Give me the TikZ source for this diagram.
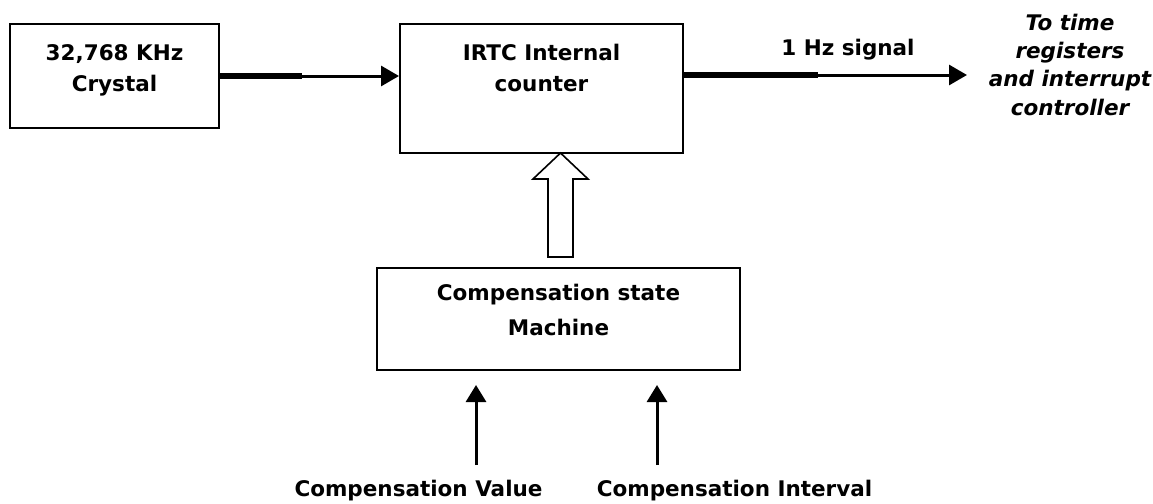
\documentclass[tikz,border=0pt]{standalone}
\usepackage{fontspec}
\setmainfont{DejaVu Sans}
\usetikzlibrary{arrows.meta}
\begin{document}
\begin{tikzpicture}[x=1pt,y=-1pt,
  box/.style={draw=black, line width=2pt, inner sep=0pt},
  txt/.style={align=center, inner sep=0pt, font=\bfseries\fontsize{21.5}{31}\selectfont},
  txtc/.style={align=center, inner sep=0pt, font=\bfseries\fontsize{21.5}{35}\selectfont},
  txti/.style={align=center, inner sep=0pt, font=\bfseries\itshape\fontsize{21.5}{28.3}\selectfont},
  lbl/.style={inner sep=0pt, font=\bfseries\fontsize{21.5}{26}\selectfont},
  heavy/.style={line width=5.5pt, yshift=1.2pt},
  signal/.style={line width=3pt, -{Triangle[length=18pt,width=20pt]}},
  inarrow/.style={line width=3pt, -{Triangle[length=17pt,width=20pt]}},
  hollow/.style={draw=black, line width=1.6pt, fill=white, line join=miter}
]
\useasboundingbox (0,0) rectangle (1153,503);

% boxes
\node[box, minimum width=209pt, minimum height=104pt] (crystal) at (114.5,76) {};
\node[box, minimum width=283pt, minimum height=129pt] (irtc) at (541.5,88.5) {};
\node[box, minimum width=363pt, minimum height=102pt] (comp) at (558.5,319) {};

% box texts
\node[txt] (crystaltxt) at (114.5,69.6) {\strut 32,768 KHz\\Crystal\strut};
\node[txt] (irtctxt) at (541.5,69.6) {\strut IRTC Internal\\counter\strut};
\node[txtc] (comptxt) at (558.5,311.3) {\strut Compensation state\\Machine\strut};

% output destination text
\node[txti] (dest) at (1070,66.9) {\strut To time\\registers\\and interrupt\\controller\strut};

% crystal -> IRTC
\coordinate (k1) at (302,76);
\draw[heavy] (crystal.east) -- (k1);
\draw[signal] (k1) -- (crystal.east -| irtc.west);

% IRTC -> output
\coordinate (k2) at (818,75);
\coordinate (out) at (967,75);
\draw[heavy] (irtc.east |- k2) -- (k2);
\draw[signal] (k2) -- (out);
\node[lbl, anchor=base] (hz) at (848,56) {1 Hz signal};

% hollow arrow comp -> IRTC
\draw[hollow] (548,257) -- (548,179) -- (533,179) -- (560.5,153) -- (588,179) -- (573,179) -- (573,257) -- cycle;

% inputs
\node[lbl, anchor=base] (cv) at (418.5,496) {Compensation Value};
\node[lbl, anchor=base] (ci) at (734.5,496) {Compensation Interval};
\coordinate (v1) at (476,465);
\coordinate (v2) at (657,465);
\draw[inarrow, shorten >=14pt] (v1) -- (v1 |- comp.south);
\draw[inarrow, shorten >=14pt] (v2) -- (v2 |- comp.south);
\end{tikzpicture}
\end{document}
